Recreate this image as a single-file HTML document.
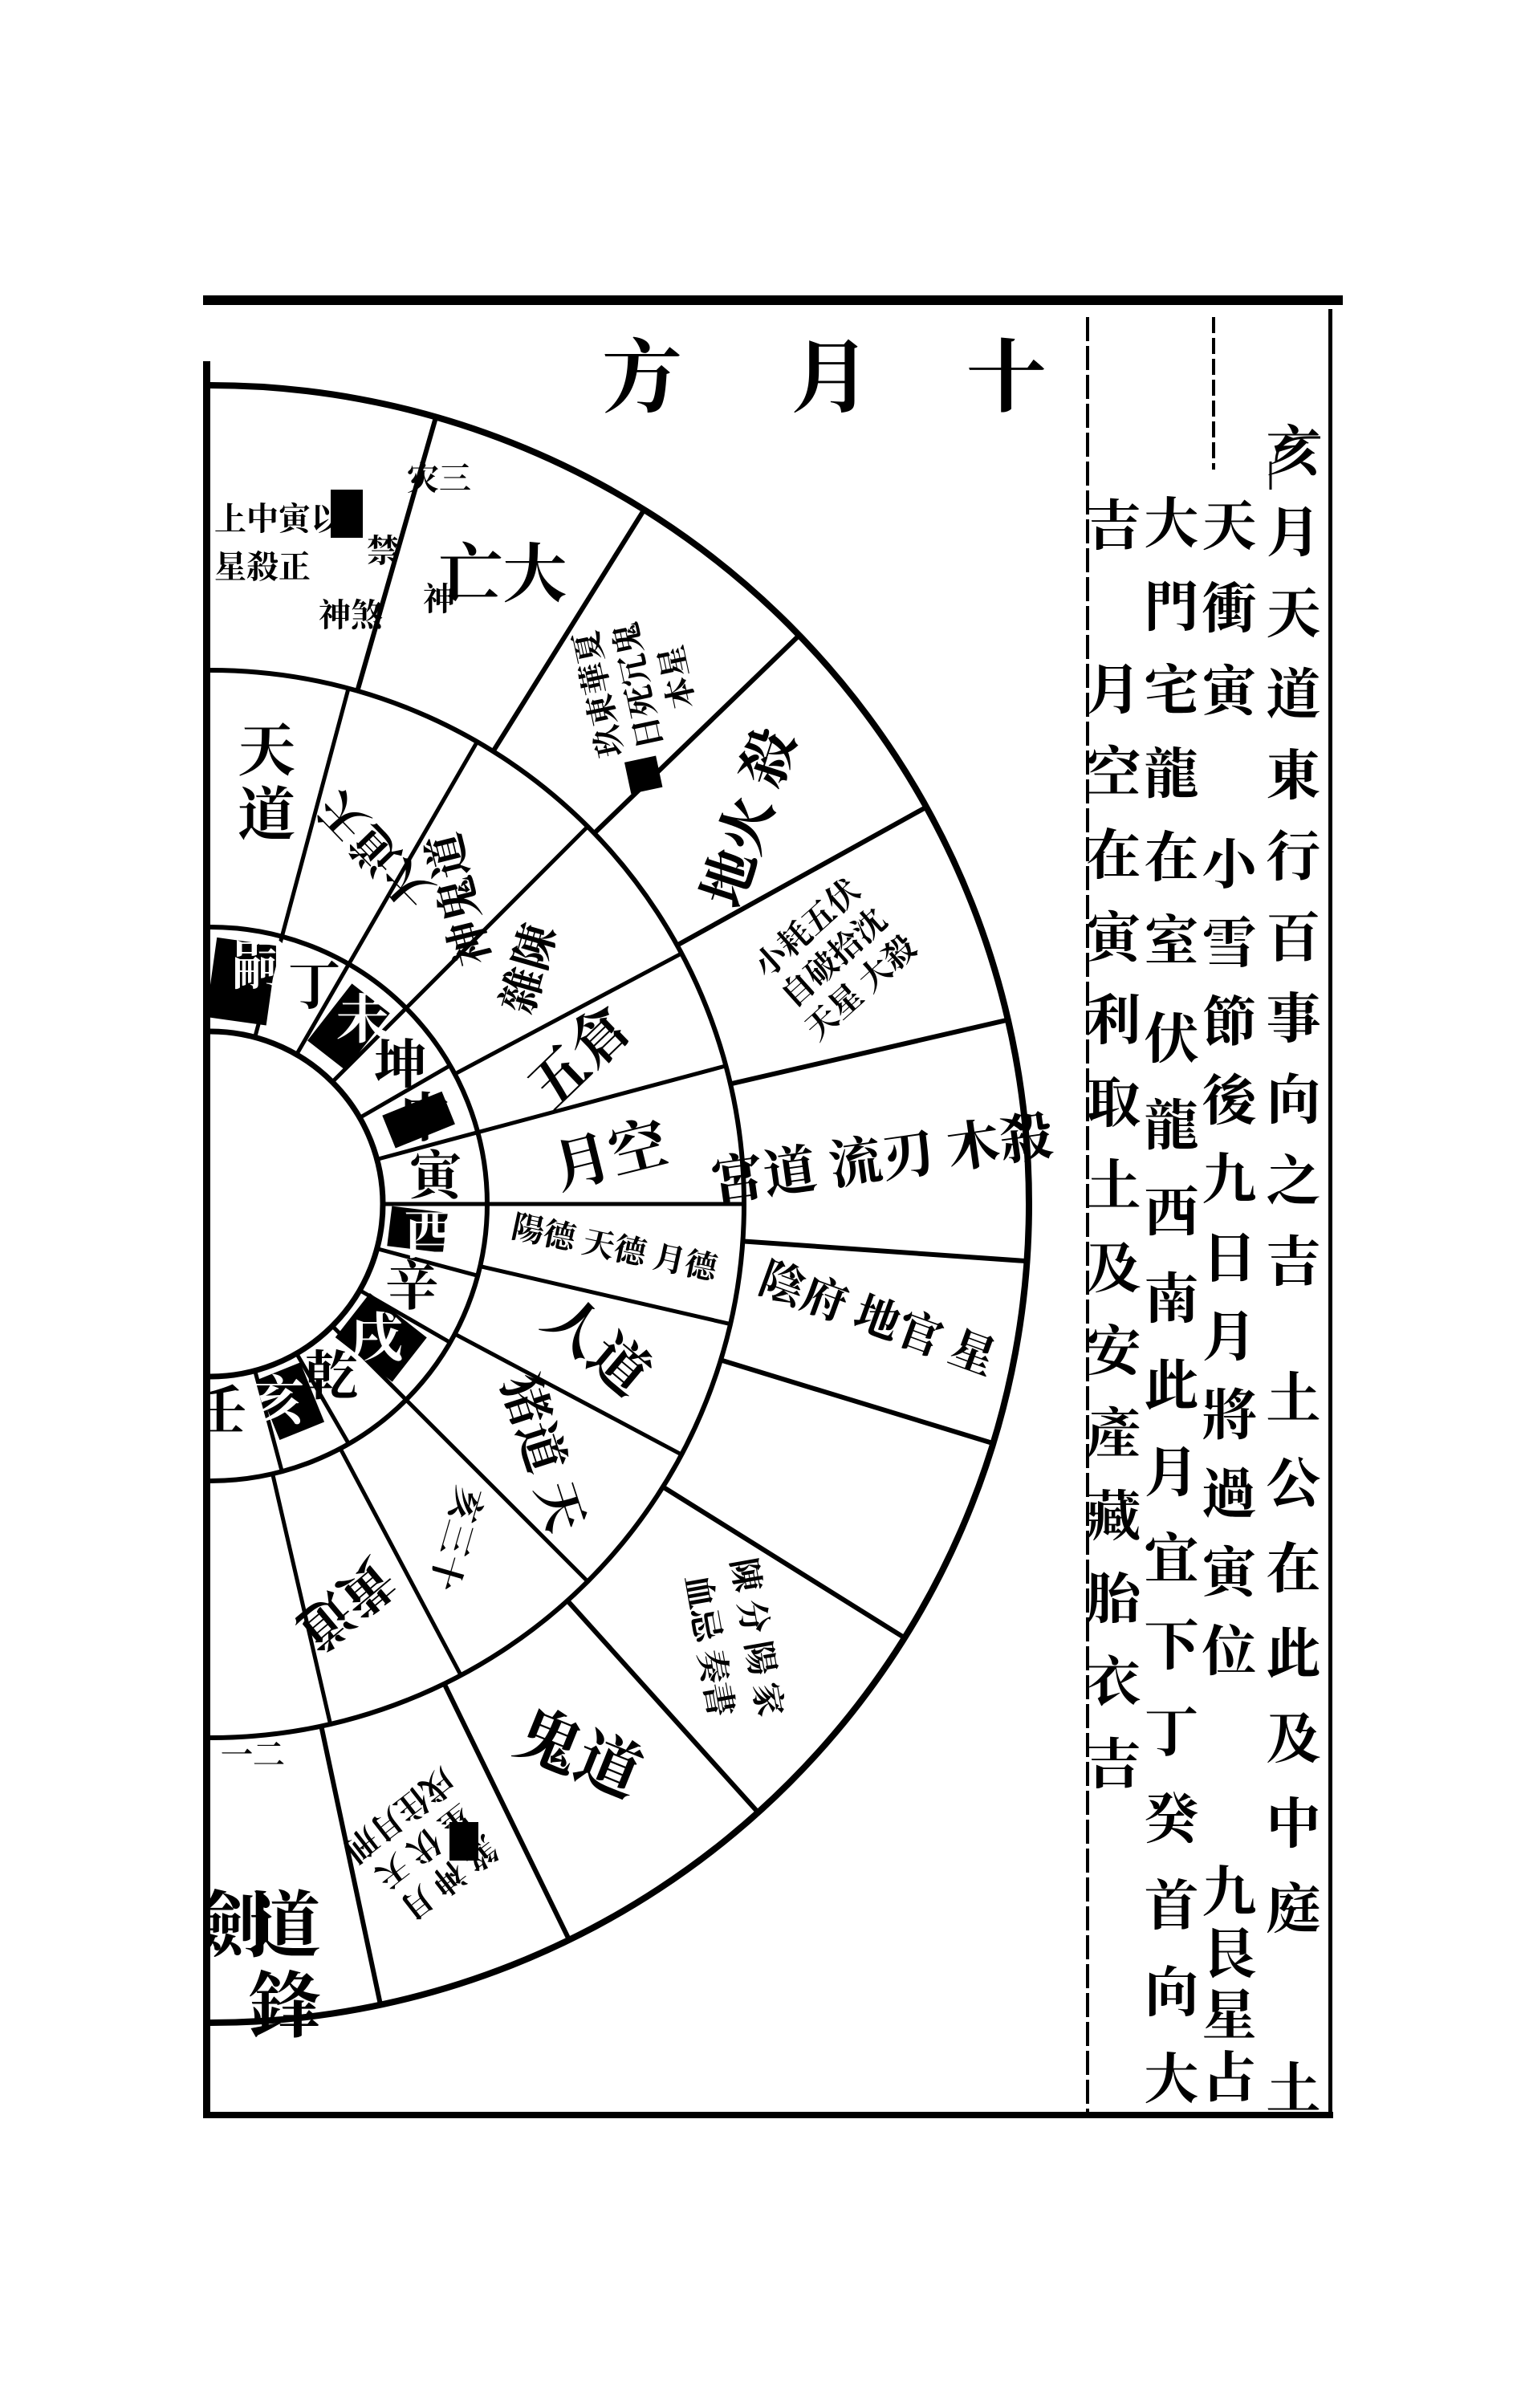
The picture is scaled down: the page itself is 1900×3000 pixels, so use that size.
<!DOCTYPE html>
<html><head><meta charset="utf-8"><style>
html,body{margin:0;padding:0;background:#fff}
#w{position:relative;width:1900px;height:3000px;overflow:hidden;background:#fff}
svg{position:absolute;left:0;top:0}
.cj{font-family:"Liberation Serif","Noto Serif CJK SC","Noto Sans CJK TC",serif;font-weight:bold;fill:#000}
.col{position:absolute;writing-mode:vertical-rl;font-family:"Liberation Serif","Noto Serif CJK SC","Noto Sans CJK TC",serif;font-weight:bold;font-size:68px;line-height:68px;width:68px;color:#000;white-space:nowrap}
</style></head><body><div id="w">
<svg width="1900" height="3000" viewBox="0 0 1900 3000">
<defs><clipPath id="c"><rect x="257" y="380" width="1100" height="2250"/></clipPath></defs>
<rect x="253" y="368" width="1420" height="12" fill="#000"/>
<rect x="253" y="2631" width="1408" height="8" fill="#000"/>
<rect x="253" y="450" width="9" height="2187" fill="#000"/>
<line x1="1355" y1="395" x2="1355" y2="2635" stroke="#000" stroke-width="4" stroke-dasharray="30 6"/>
<line x1="1512" y1="395" x2="1512" y2="585" stroke="#000" stroke-width="4" stroke-dasharray="20 6"/>
<path d="M1590,575 q0,-30 40,-30 l15,0" fill="none" stroke="#000" stroke-width="3"/>
<line x1="1583" y1="575" x2="1583" y2="610" stroke="#000" stroke-width="3"/>
<rect x="1655" y="385" width="5" height="2250" fill="#000"/>
<text class="cj" x="1254" y="505" font-size="100" text-anchor="middle">十</text>
<text class="cj" x="1035" y="505" font-size="100" text-anchor="middle">月</text>
<text class="cj" x="800" y="505" font-size="100" text-anchor="middle">方</text>
<g clip-path="url(#c)">
<g transform="translate(262,1500)" fill="none" stroke="#000">
<circle r="1020" stroke-width="8"/>
<circle r="665" stroke-width="6"/>
<circle r="345" stroke-width="6"/>
<circle r="215" stroke-width="7"/>
<g stroke-width="5">
<line x1="215" x2="345" transform="rotate(-75)"/><line x1="215" x2="345" transform="rotate(-60)"/>
<line x1="215" x2="345" transform="rotate(-45)"/><line x1="215" x2="345" transform="rotate(-30)"/>
<line x1="215" x2="345" transform="rotate(-15)"/><line x1="215" x2="345" transform="rotate(0)"/>
<line x1="215" x2="345" transform="rotate(15)"/><line x1="215" x2="345" transform="rotate(30)"/>
<line x1="215" x2="345" transform="rotate(45)"/><line x1="215" x2="345" transform="rotate(60)"/>
<line x1="215" x2="345" transform="rotate(75)"/>
</g>
<g stroke-width="5">
<line x1="345" x2="665" transform="rotate(-75)"/><line x1="345" x2="665" transform="rotate(-60)"/>
<line x1="345" x2="665" transform="rotate(-45)"/><line x1="345" x2="665" transform="rotate(-28)"/>
<line x1="345" x2="665" transform="rotate(-15)"/><line x1="345" x2="665" transform="rotate(0)"/>
<line x1="345" x2="665" transform="rotate(13)"/><line x1="345" x2="665" transform="rotate(28)"/>
<line x1="345" x2="665" transform="rotate(45)"/><line x1="345" x2="665" transform="rotate(62)"/>
<line x1="345" x2="665" transform="rotate(77)"/>
</g>
<g stroke-width="6">
<line x1="665" x2="1020" transform="rotate(-74)"/><line x1="665" x2="1020" transform="rotate(-58)"/>
<line x1="665" x2="1020" transform="rotate(-44)"/><line x1="665" x2="1020" transform="rotate(-29)"/>
<line x1="665" x2="1020" transform="rotate(-13)"/><line x1="665" x2="1020" transform="rotate(4)"/>
<line x1="665" x2="1020" transform="rotate(17)"/><line x1="665" x2="1020" transform="rotate(32)"/>
<line x1="665" x2="1020" transform="rotate(48)"/><line x1="665" x2="1020" transform="rotate(64)"/>
<line x1="665" x2="1020" transform="rotate(78)"/>
</g>
</g>
<g transform="translate(262,1500)" fill="#000">
<g transform="rotate(-82)"><rect x="230" y="-38" width="100" height="76"/></g>
<g transform="rotate(-52)"><rect x="235" y="-30" width="90" height="60"/></g>
<g transform="rotate(-22)"><rect x="240" y="-22" width="80" height="44"/></g>
<g transform="rotate(7)"><rect x="225" y="-25" width="70" height="50"/></g>
<g transform="rotate(38)"><rect x="225" y="-35" width="90" height="70"/></g>
<g transform="rotate(68)"><rect x="225" y="-30" width="80" height="60"/></g>
</g>
<g transform="translate(262,1500)" class="cj" font-size="66" text-anchor="middle">
<g transform="rotate(-82) translate(280,22) rotate(82)"><text fill="#fff">嗣</text></g>
<g transform="rotate(-67) translate(280,22) rotate(67)"><text>丁</text></g>
<g transform="rotate(-52) translate(280,22) rotate(52)"><text fill="#fff">未</text></g>
<g transform="rotate(-37) translate(280,22) rotate(37)"><text>坤</text></g>
<g transform="rotate(-22) translate(280,22) rotate(22)"><text>申</text></g>
<g transform="rotate(-7) translate(280,22) rotate(7)"><text>寅</text></g>
<g transform="rotate(8) translate(280,22) rotate(-8)"><text fill="#fff">酉</text></g>
<g transform="rotate(22) translate(280,22) rotate(-22)"><text>辛</text></g>
<g transform="rotate(38) translate(280,22) rotate(-38)"><text fill="#fff">戌</text></g>
<g transform="rotate(53) translate(280,22) rotate(-53)"><text>乾</text></g>
<g transform="rotate(68) translate(280,22) rotate(-68)"><text fill="#fff">亥</text></g>
<g transform="rotate(83) translate(280,22) rotate(-83)"><text>壬</text></g>
</g>
<g transform="translate(262,1500)" class="cj" font-size="72" text-anchor="middle">
<g transform="rotate(-82) translate(505,0) rotate(82)"><text y="-40">天</text><text y="40">道</text></g>
<g transform="rotate(-67) translate(505,25) rotate(-67)"><text font-size="58">大道天</text></g>
<g transform="rotate(-52) translate(505,22) rotate(-52)"><text font-size="56">神鬼道</text></g>
<g transform="rotate(-37) translate(505,20) rotate(-37)"><text font-size="56">雜陳</text></g>
<g transform="rotate(-22) translate(505,25) rotate(-22)"><text>五倉</text></g>
<g transform="rotate(-7) translate(505,25) rotate(-7)"><text>月空</text></g>
<g transform="rotate(6) translate(505,15) rotate(6)"><text font-size="40">陽德 天德 月德</text></g>
<g transform="rotate(20) translate(505,25) rotate(20)"><text>人道</text></g>
<g transform="rotate(36) translate(505,25) rotate(36)"><text font-size="62">猪道 天</text></g>
<g transform="rotate(53) translate(505,15) rotate(53)"><text font-size="44">亥三十</text></g>
<g transform="rotate(70) translate(505,20) rotate(70)"><text font-size="66">黃道</text></g>
</g>
<g transform="translate(262,1500)" class="cj" text-anchor="middle">
<g transform="translate(145,-1040)" font-size="40">
<text x="-80" y="200">月上中寅以</text><text x="-80" y="260">星殺正</text>
<rect x="5" y="150" width="40" height="60" fill="#000"/>
<text x="30" y="320">神煞</text><text x="70" y="240">禁</text><text x="140" y="150">灾三</text><text x="140" y="300">神</text>
</g>
<g transform="rotate(-66) translate(840,25) rotate(66)" font-size="80"><text>亡大</text></g>
<g transform="rotate(-51) translate(840,10) rotate(-51)" font-size="40">
<rect x="-130" y="-40" width="40" height="40" fill="#000"/><text y="-40">玖東華夏</text><text y="10">日死冗鬼</text><text y="60">本星</text></g>
<g transform="rotate(-36) translate(840,25) rotate(-36)" font-size="70"><text>地火 殺</text></g>
<g transform="rotate(-21) translate(840,5) rotate(-21)" font-size="40"><text y="-50">小耗五伏</text><text y="0">自破拾沈</text><text y="50">天星 大殺</text></g>
<g transform="rotate(-4) translate(840,25) rotate(-4)" font-size="66"><text>宮道 流刃 木殺</text></g>
<g transform="rotate(10) translate(840,15) rotate(10)" font-size="56"><text>陰府 地官 星</text></g>
<g transform="rotate(40) translate(840,10) rotate(40)" font-size="42"><text y="-30">陳 分 陽 家</text><text y="30">血忌 奏書</text></g>
<g transform="rotate(56) translate(840,25) rotate(-34)" font-size="80"><text>鬼道</text></g>
<g transform="rotate(71) translate(840,10) rotate(71)" font-size="40"><text y="-40">煞 神 月</text><text y="10">星 伏 天</text><text y="60">戌住月刑</text></g>
</g>
<g class="cj" text-anchor="middle">
<rect x="560" y="2270" width="36" height="48" fill="#000"/>
<text x="355" y="2430" font-size="90">道</text>
<text x="355" y="2530" font-size="90">鋒</text>
<text x="290" y="2430" font-size="90">劍</text>
<text x="315" y="2200" font-size="40">一二</text>
</g>
</g>
</svg>
<div class="col" style="left:1572px;top:526px;letter-spacing:33px">亥月天道東行百事向之吉</div>
<div class="col" style="left:1572px;top:1706px;letter-spacing:38px">土公在此及中庭</div>
<div class="col" style="left:1572px;top:2566px">土</div>
<div class="col" style="left:1492px;top:619px;letter-spacing:35px">天衝寅</div>
<div class="col" style="left:1492px;top:1041px;letter-spacing:30px">小雪節後九日月將過寅位</div>
<div class="col" style="left:1492px;top:2321px;letter-spacing:9px">九艮星占</div>
<div class="col" style="left:1420px;top:616px;letter-spacing:36px">大門宅龍在室</div>
<div class="col" style="left:1420px;top:1258px;letter-spacing:40px">伏龍西南此月宜下丁癸首向大</div>
<div class="col" style="left:1348px;top:619px">吉</div>
<div class="col" style="left:1348px;top:823px;letter-spacing:35px">月空在寅利取土及安產藏胎衣吉</div>
</div></body></html>
